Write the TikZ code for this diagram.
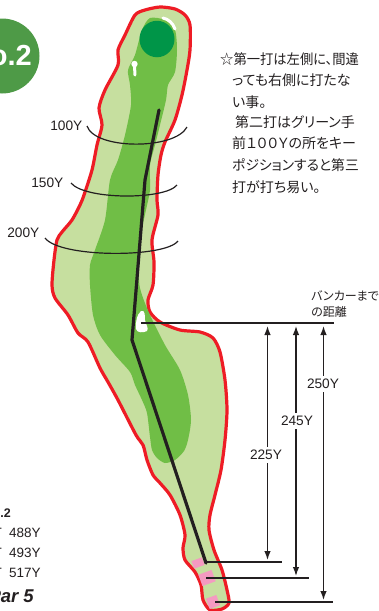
\documentclass[tikz,border=0pt]{standalone}
\usepackage{fontspec}
\setmainfont{Liberation Sans}
\newfontfamily\jp[RawFeature=+palt]{Noto Sans CJK JP}
\usetikzlibrary{arrows.meta,shapes.geometric}
\definecolor{rough}{HTML}{C6DF9F}
\definecolor{fairway}{HTML}{70BE46}
\definecolor{greenpad}{HTML}{009548}
\definecolor{holered}{HTML}{EE1C25}
\definecolor{badge}{HTML}{4E9A47}
\definecolor{teepink}{HTML}{F49AC1}
\definecolor{ink}{HTML}{231F20}
\tikzset{
  x=1pt,y=-1pt,
  yard/.style={font=\fontsize{13.7}{14}\selectfont,text=ink,inner sep=1pt},
  yardw/.style={yard,fill=white,inner sep=3pt},
  rangearc/.style={ink,line width=1.2pt},
  shotline/.style={ink,line width=3.2pt,line cap=round,line join=round},
  measline/.style={ink,line width=1.3pt},
  dimarrow/.style={ink,line width=1.3pt,-{Latex[length=9pt,width=6.5pt]}},
  jptext/.style={font=\jp\fontsize{14}{14}\selectfont,text=ink,anchor=west,inner sep=0pt},
  jpsmall/.style={font=\jp\fontsize{12}{12}\selectfont,text=ink,anchor=west,inner sep=0pt},
  teebox/.style={fill=teepink,draw=none,rotate=20,inner sep=0pt,minimum width=#1},
  infotext/.style={font=\fontsize{13.5}{14}\selectfont,text=ink,anchor=west,inner sep=0pt}
}
\begin{document}
\begin{tikzpicture}
\useasboundingbox (0,0) rectangle (378,611);
\clip (0,0) rectangle (378,611);
% hole outline
\draw[fill=rough,draw=holered,line width=3.2pt,line join=round] plot[smooth cycle,tension=0.45] coordinates {
(160,7)(175,9)(185,15)(190,25)(190,50)(187,70)(182,95)(175,120)(165,142)(161,155)(158,175)(157,200)(158,215)(152,240)(154,262)(153,285)(148,300)(150,312)(160,322)(180,330)(200,332)(213,338)(220,352)(225,380)(227,410)(225,440)(221,470)(215,495)(210,515)(209,530)(214,550)(222,570)(227,590)(229,603)(222,609)(210,610)(203,600)(201,585)(195,572)(185,560)(183,548)(185,535)(180,515)(170,495)(160,483)(153,475)(147,460)(143,445)(136,435)(118,400)(108,382)(100,368)(88,342)(78,333)(68,315)(55,298)(52,285)(54,260)(57,240)(62,232)(72,220)(80,205)(84,195)(92,170)(97,145)(102,125)(99,108)(105,90)(118,65)(118,50)(125,35)(135,15)(145,10)};
% fairway
\fill[fairway] plot[smooth cycle,tension=0.45] coordinates {
(150,18)(165,20)(175,30)(177,50)(175,72)(168,85)(166,100)(160,125)(155,145)(150,165)(150,190)(146,210)(140,240)(139,280)(142,295)(150,315)(165,345)(180,370)(188,395)(191,420)(188,440)(184,451)(175,460)(165,463)(157,458)(152,450)(150,437)(147,413)(142,400)(135,385)(130,372)(115,355)(100,335)(93,315)(90,285)(90,265)(95,250)(105,220)(110,180)(118,160)(125,135)(131,105)(130,85)(128,70)(135,55)(142,30)};
% green and bunkers
\node[fill=greenpad,ellipse,draw=none,minimum width=35pt,minimum height=36.5pt,inner sep=0pt] (green) at (157,39) {};
\draw[white,line width=3pt,line cap=round] (163,18) .. controls (168,19) and (173,23) .. (175,29);
\fill[white] (134.5,64) circle (3.2pt);
\draw[white,line width=3pt,line cap=round] (134.5,66) -- (135,75);
\fill[white] (141,311) .. controls (145,309) and (145,316) .. (145,320) .. controls (146,325) and (149,328) .. (147,331) .. controls (143,333) and (137,333) .. (136,329) .. controls (135,324) and (137,314) .. (141,311) -- cycle;
% tees
\node[teebox=11pt,minimum height=8pt] (tee1) at (198,563) {};
\node[teebox=14pt,minimum height=12pt] (tee2) at (207,578) {};
\node[teebox=11pt,minimum height=11pt] (tee3) at (213,602) {};
% shot line
\coordinate (landing) at (159,110);
\coordinate (kink1) at (145,180);
\coordinate (kink2) at (132,340);
\coordinate (teeshot) at (206,563);
\draw[shotline] (landing) -- (kink1) -- (kink2) -- (teeshot);
% range arcs
\coordinate (a100l) at (87,126); \coordinate (a100r) at (187,127);
\coordinate (a150l) at (71,183); \coordinate (a150r) at (177,185);
\coordinate (a200l) at (45,238); \coordinate (a200r) at (178,241);
\draw[rangearc] (a100l) .. controls (95,150) and (175,150) .. (a100r);
\draw[rangearc] (a150l) .. controls (85,200) and (165,200) .. (a150r);
\draw[rangearc] (a200l) .. controls (60,258) and (165,258) .. (a200r);
\node[yard,anchor=east] (t100) at (83.5,126) {100Y};
\node[yard,anchor=east] (t150) at (64.5,183) {150Y};
\node[yard,anchor=east] (t200) at (40.5,233) {200Y};
% measuring lines
\coordinate (bl) at (141,323); \coordinate (br) at (334,323);
\draw[measline] (bl) -- (br);
\coordinate (l1a) at (206,562); \coordinate (l1b) at (282,562);
\coordinate (l2a) at (206,578); \coordinate (l2b) at (309,578);
\coordinate (l3a) at (215,602); \coordinate (l3b) at (333,602);
\draw[measline] (l1a) -- (l1b);
\draw[measline] (l2a) -- (l2b);
\draw[measline] (l3a) -- (l3b);
\coordinate (m1) at (267.5,455); \coordinate (m2) at (296,421); \coordinate (m3) at (323.5,384);
\draw[dimarrow] (m1) -- (267.5,326);
\draw[dimarrow] (m1) -- (267.5,560);
\draw[dimarrow] (m2) -- (296,326);
\draw[dimarrow] (m2) -- (296,576);
\draw[dimarrow] (m3) -- (323.5,326);
\draw[dimarrow] (m3) -- (323.5,600);
\node[yardw] (d225) at (266,455) {225Y};
\node[yardw] (d245) at (297,421) {245Y};
\node[yardw] (d250) at (323,384) {250Y};
\node[jpsmall] (bk1) at (311,296) {バンカーまで};
\node[jpsmall] (bk2) at (311,312) {の距離};
% notes
\node[jptext] (n1) at (220,59) {\scalebox{0.95}[1]{☆第一打は左側に、間違}};
\node[jptext] (n2) at (232,80) {っても右側に打たな};
\node[jptext] (n3) at (232,102) {い事。};
\node[jptext] (n4) at (235,122) {第二打はグリーン手};
\node[jptext] (n5) at (232,143) {前１００Ｙの所をキー};
\node[jptext] (n6) at (232,165) {\scalebox{0.985}[1]{ポジションすると第三}};
\node[jptext] (n7) at (232,187) {打が打ち易い。};
% badge
\fill[badge] (2,56) circle (37.5pt);
\node[font=\bfseries\fontsize{29}{30}\selectfont,text=white,anchor=east,inner sep=0pt] (badgetext) at (32,56) {No.2};
% info block
\node[font=\bfseries\fontsize{12.5}{13}\selectfont,text=ink,anchor=east,inner sep=0pt] (info) at (11,513) {No.2};
\node[infotext,anchor=east] (tk1) at (2,533) {T};
\node[infotext,anchor=east] (tk2) at (2,553) {T};
\node[infotext,anchor=east] (tk3) at (2,573) {T};
\node[infotext] (y1) at (9,533) {488Y};
\node[infotext] (y2) at (9,553) {493Y};
\node[infotext] (y3) at (9,573) {517Y};
\node[font=\bfseries\itshape\fontsize{18.5}{19}\selectfont,text=ink,anchor=east,inner sep=0pt] (par) at (34,596) {Par 5};
\end{tikzpicture}
\end{document}
